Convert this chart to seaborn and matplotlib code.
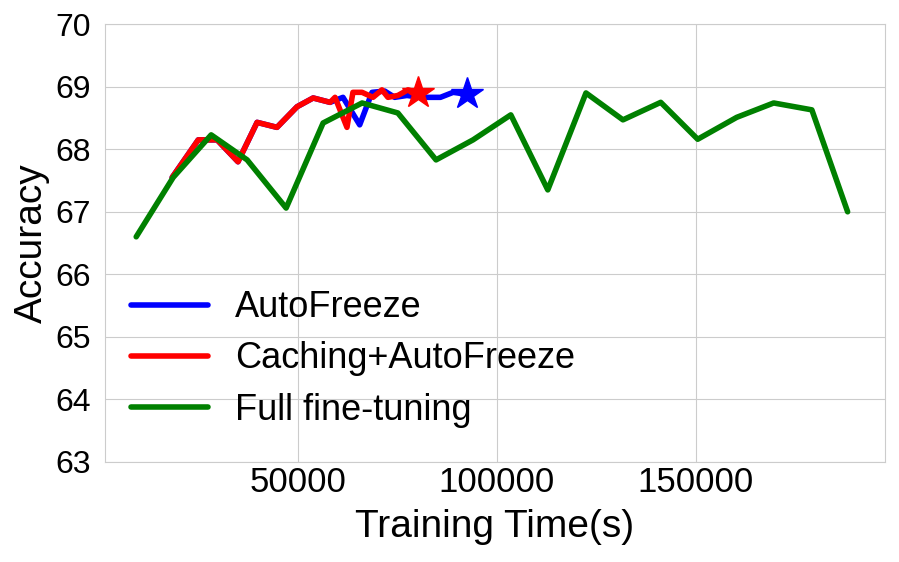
import matplotlib
matplotlib.use("Agg")
import matplotlib.pyplot as plt
import seaborn as sns
import pandas as pd

# ------------------- data -------------------
full_time = [9300, 18600, 28150, 37200, 47000, 56300, 66100, 75100, 84700, 94000,
             103500, 112800, 122400, 131700, 141200, 150500, 160300, 169600, 179200, 188200]
full_acc = [66.60, 67.55, 68.23, 67.83, 67.06, 68.42, 68.74, 68.58, 67.83, 68.15,
            68.55, 67.35, 68.90, 68.47, 68.75, 68.16, 68.51, 68.74, 68.63, 67.00]

auto_time = [18350, 24900, 29650, 34900, 39700, 44700, 49750, 53800, 58050,
             61300, 65500, 68600, 71800, 74300, 77400, 80700, 85800, 89000, 92400]
auto_acc = [67.55, 68.15, 68.15, 67.80, 68.43, 68.35, 68.68, 68.82, 68.75,
            68.83, 68.39, 68.91, 68.93, 68.83, 68.86, 68.83, 68.83, 68.91, 68.88]

cache_time = [18350, 24900, 29650, 34900, 39700, 44700, 49750, 53800, 58050, 59300,
              62300, 63800, 66100, 68850, 71100, 72600, 75100, 77650, 80150]
cache_acc = [67.55, 68.15, 68.15, 67.80, 68.43, 68.35, 68.68, 68.82, 68.75, 68.83,
             68.35, 68.91, 68.91, 68.83, 68.95, 68.83, 68.86, 68.95, 68.90]

series = [
    ("AutoFreeze", auto_time, auto_acc, "blue"),
    ("Caching+AutoFreeze", cache_time, cache_acc, "red"),
    ("Full fine-tuning", full_time, full_acc, "green"),
]

sns.set_style("whitegrid", {"axes.edgecolor": ".8", "grid.color": ".8",
                            "text.color": "black", "xtick.color": "black",
                            "ytick.color": "black", "axes.labelcolor": "black"})
plt.rcParams["font.family"] = ["Liberation Sans", "DejaVu Sans"]

fig, ax = plt.subplots(figsize=(8.99, 5.62), dpi=100)
fig.subplots_adjust(left=0.117, right=0.984, top=0.957, bottom=0.178)

for name, t, acc, color in series:
    df = pd.DataFrame({"time": t, "acc": acc})
    sns.lineplot(data=df, x="time", y="acc", ax=ax, color=color, linewidth=4,
                 sort=False, label=name)
    if name != "Full fine-tuning":
        # star on the final point
        ax.plot(t[-1:], acc[-1:], marker="*", markersize=24, color=color,
                linestyle="none")

ax.set_xlim(1500, 197500)
ax.set_ylim(63, 70)
ax.set_xticks([50000, 100000, 150000])
ax.set_yticks(range(63, 71))
ax.tick_params(axis="x", labelsize=25, length=0, pad=3)
ax.tick_params(axis="y", labelsize=23, length=0, pad=10)
ax.set_xlabel("Training Time(s)", fontsize=28, labelpad=7)
ax.set_ylabel("Accuracy", fontsize=28, labelpad=4)
ax.legend(loc="lower left", bbox_to_anchor=(-0.009, 0.004), fontsize=26, frameon=False,
          handlelength=2.15, handletextpad=0.75, labelspacing=0.45)

plt.savefig("out.png", dpi=100)
